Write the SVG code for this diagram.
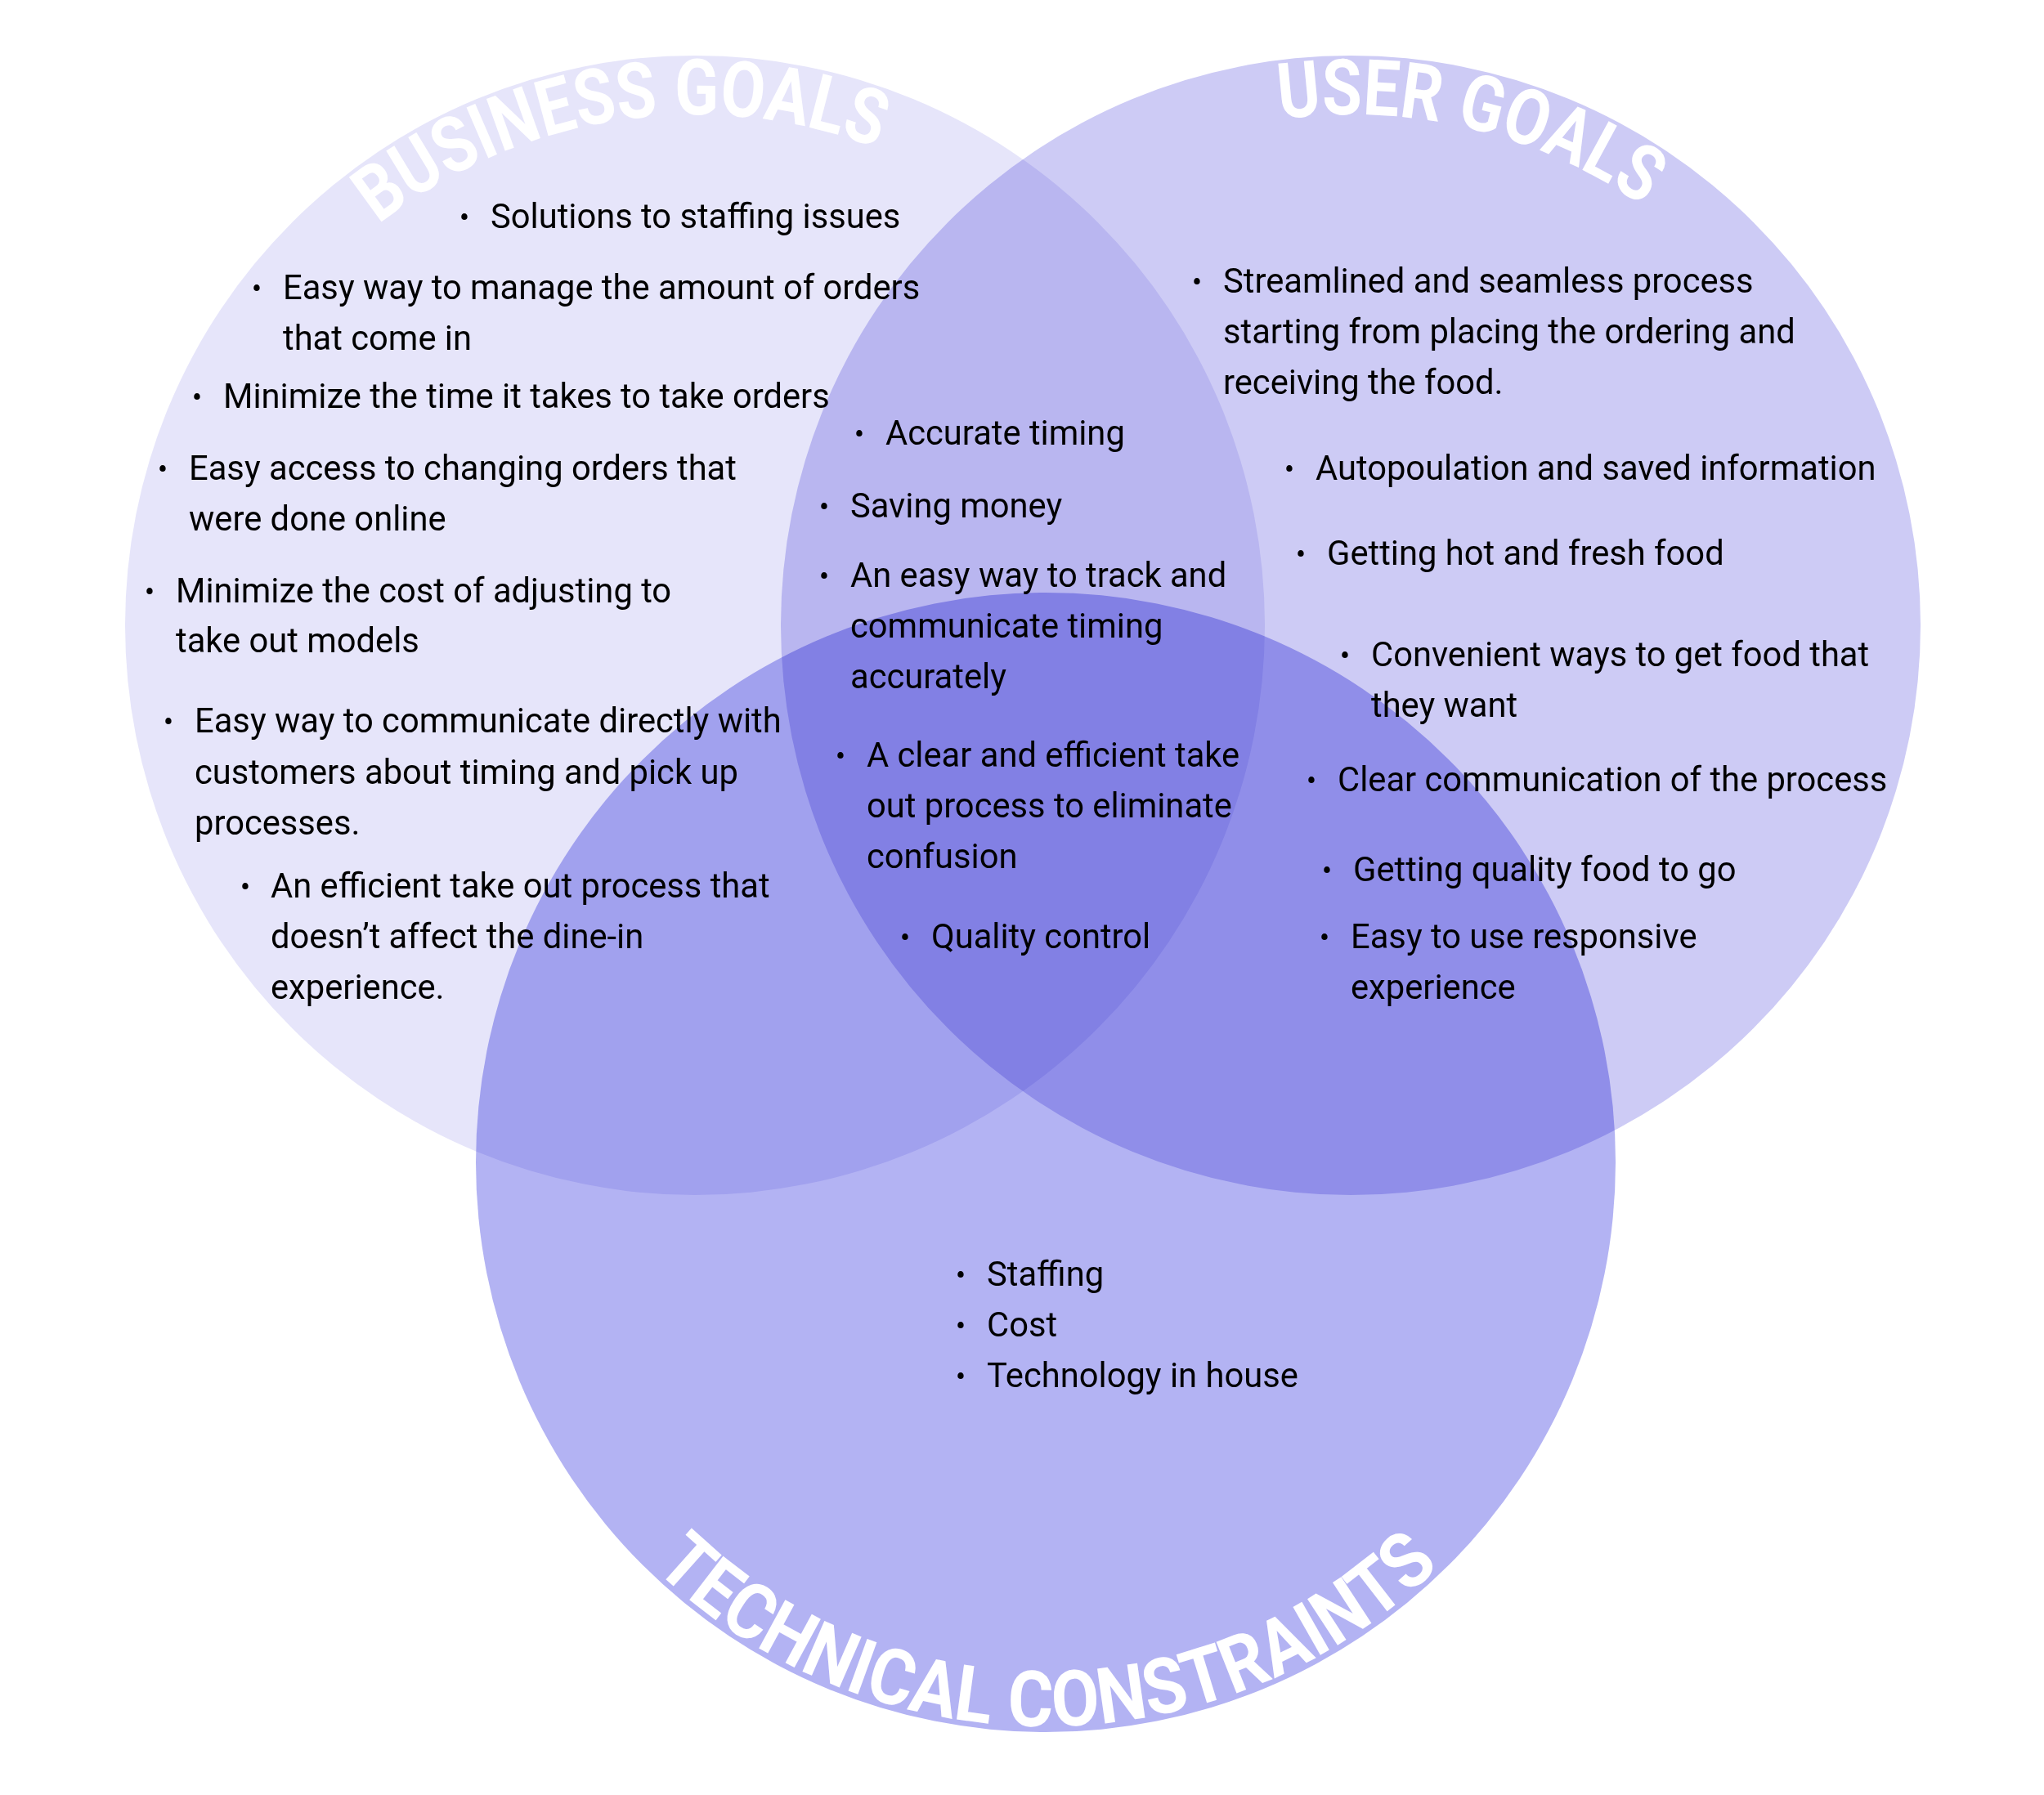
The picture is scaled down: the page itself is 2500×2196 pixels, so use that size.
<svg xmlns="http://www.w3.org/2000/svg" width="2500" height="2196" viewBox="0 0 2500 2196">
<style>
.circ { mix-blend-mode: multiply; }
.t { font-family: Roboto, "Liberation Sans", sans-serif; font-size: 41.7px; fill: #000; }
.b { font-family: Roboto, "Liberation Sans", sans-serif; font-size: 37px; fill: #000; text-anchor: middle; }
.title { font-family: Roboto, "Liberation Sans", sans-serif; font-size: 95px; font-weight: 700; fill: #fff; }
</style>
<defs>
<path id="arcB" d="M 225 765 A 625 625 0 0 1 1475 765"/>
<path id="arcU" d="M 1027 765 A 625 625 0 0 1 2277 765"/>
<path id="arcT" d="M 589 1422 A 690 690 0 0 0 1969 1422"/>
</defs>
<rect width="2500" height="2196" fill="#fff"/>
<g id="circles" style="isolation:isolate">
<circle id="business-circle" class="circ" cx="850" cy="765" r="697" fill="#e6e5fa"/>
<circle id="user-circle" class="circ" cx="1652" cy="765" r="697" fill="#cdcbf5"/>
<circle id="technical-circle" class="circ" cx="1279" cy="1422" r="697" fill="#b3b3f3"/>
</g>
<g id="titles">
<text class="title"><textPath href="#arcB" startOffset="564" textLength="645" lengthAdjust="spacingAndGlyphs">BUSINESS GOALS</textPath></text>
<text class="title"><textPath href="#arcU" startOffset="895" textLength="467" lengthAdjust="spacingAndGlyphs">USER GOALS</textPath></text>
<text class="title"><textPath href="#arcT" startOffset="554" textLength="1063" lengthAdjust="spacingAndGlyphs">TECHNICAL CONSTRAINTS</textPath></text>
</g>
<g id="business-goals">
<text class="b" x="568" y="279">•</text><text class="t" x="600" y="279">Solutions to staffing issues</text>
<text class="b" x="314" y="366">•</text><text class="t" x="346" y="366">Easy way to manage the amount of orders</text>
<text class="t" x="346" y="428">that come in</text>
<text class="b" x="241" y="499">•</text><text class="t" x="273" y="499">Minimize the time it takes to take orders</text>
<text class="b" x="199" y="587">•</text><text class="t" x="231" y="587">Easy access to changing orders that</text>
<text class="t" x="231" y="649">were done online</text>
<text class="b" x="183" y="737">•</text><text class="t" x="215" y="737">Minimize the cost of adjusting to</text>
<text class="t" x="215" y="798">take out models</text>
<text class="b" x="206" y="896">•</text><text class="t" x="238" y="896">Easy way to communicate directly with</text>
<text class="t" x="238" y="959">customers about timing and pick up</text>
<text class="t" x="238" y="1021">processes.</text>
<text class="b" x="300" y="1098">•</text><text class="t" x="331" y="1098">An efficient take out process that</text>
<text class="t" x="331" y="1160">doesn’t affect the dine-in</text>
<text class="t" x="331" y="1222">experience.</text>
</g>
<g id="shared-goals">
<text class="b" x="1051" y="544">•</text><text class="t" x="1083" y="544">Accurate timing</text>
<text class="b" x="1008" y="633">•</text><text class="t" x="1040" y="633">Saving money</text>
<text class="b" x="1008" y="718">•</text><text class="t" x="1040" y="718">An easy way to track and</text>
<text class="t" x="1040" y="780">communicate timing</text>
<text class="t" x="1040" y="842">accurately</text>
<text class="b" x="1028" y="938">•</text><text class="t" x="1060" y="938">A clear and efficient take</text>
<text class="t" x="1060" y="1000">out process to eliminate</text>
<text class="t" x="1060" y="1062">confusion</text>
<text class="b" x="1107" y="1160">•</text><text class="t" x="1139" y="1160">Quality control</text>
</g>
<g id="user-goals">
<text class="b" x="1464" y="358">•</text><text class="t" x="1496" y="358">Streamlined and seamless process</text>
<text class="t" x="1496" y="420">starting from placing the ordering and</text>
<text class="t" x="1496" y="482">receiving the food.</text>
<text class="b" x="1577" y="587">•</text><text class="t" x="1609" y="587">Autopoulation and saved information</text>
<text class="b" x="1591" y="691">•</text><text class="t" x="1623" y="691">Getting hot and fresh food</text>
<text class="b" x="1645" y="815">•</text><text class="t" x="1677" y="815">Convenient ways to get food that</text>
<text class="t" x="1677" y="877">they want</text>
<text class="b" x="1604" y="968">•</text><text class="t" x="1636" y="968">Clear communication of the process</text>
<text class="b" x="1623" y="1078">•</text><text class="t" x="1655" y="1078">Getting quality food to go</text>
<text class="b" x="1620" y="1160">•</text><text class="t" x="1652" y="1160">Easy to use responsive</text>
<text class="t" x="1652" y="1222">experience</text>
</g>
<g id="technical-constraints">
<text class="b" x="1175" y="1573">•</text><text class="t" x="1207" y="1573">Staffing</text>
<text class="b" x="1175" y="1635">•</text><text class="t" x="1207" y="1635">Cost</text>
<text class="b" x="1175" y="1697">•</text><text class="t" x="1207" y="1697">Technology in house</text>
</g>
<g id="connectors"/>
</svg>
